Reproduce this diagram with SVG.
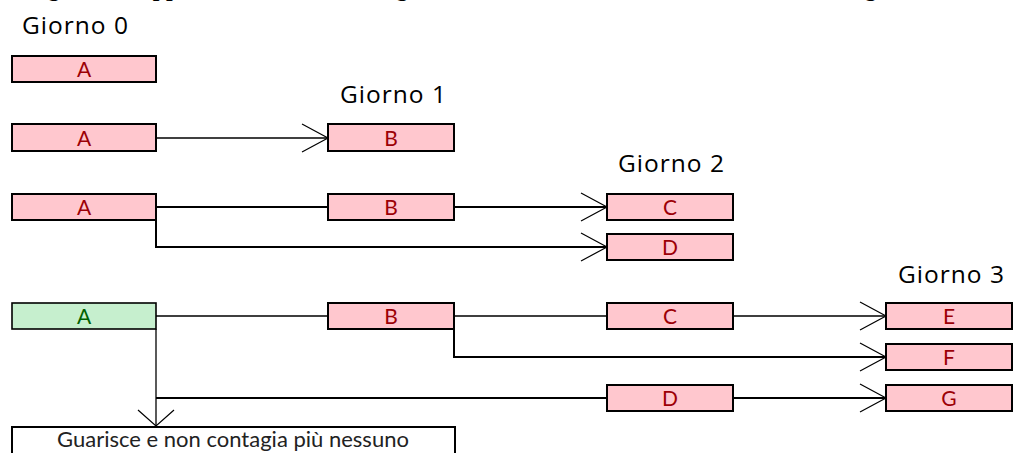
<svg xmlns="http://www.w3.org/2000/svg" width="1015" height="453" viewBox="0 0 1015 453">
  <style>
    .title { font-family: "Liberation Serif", serif; font-weight: bold; font-size: 24px; fill: #000; }
    .day { font-family: "Open Sans", "Noto Sans", sans-serif; font-size: 24.5px; letter-spacing: 1px; fill: #000; }
    .sick rect { fill: #FFC7CE; stroke: #000; stroke-width: 2; }
    .sick text { fill: #9C0006; }
    .healed rect { fill: #C6EFCE; stroke: #000; stroke-width: 1.6; }
    .healed text { fill: #006100; }
    .lbl { font-family: "Lato", "Open Sans", sans-serif; font-size: 21px; text-anchor: middle; }
    .note rect { fill: #fff; stroke: #000; stroke-width: 2; }
    .note text { fill: #222; font-size: 22px; }
    .wire { fill: none; stroke: #000; stroke-width: 2; }
    .thin { stroke-width: 1.3; }
    .head { fill: none; stroke: #000; stroke-width: 1.2; }
  </style>

  <!-- heading, cut off at the top edge -->
  <text class="title" x="12" y="-4">Diagramma approssimativo del contagio, nel caso in cui ciascun ammalato ne contagia due</text>

  <!-- day labels -->
  <text class="day" x="22" y="34">Giorno 0</text>
  <text class="day" x="340" y="103">Giorno 1</text>
  <text class="day" x="618" y="172">Giorno 2</text>
  <text class="day" x="898" y="283">Giorno 3</text>

  <!-- connectors -->
  <g id="connectors">
    <!-- day 1 -->
    <path class="wire thin" d="M156 138 H328"/>
    <path class="head" d="M302 124 L328 138 L302 152"/>
    <!-- day 2 -->
    <path class="wire" d="M156 207 H328 M454 207 H607"/>
    <path class="head" d="M581 193 L607 207 L581 221"/>
    <path class="wire" d="M156 220 V247 H607"/>
    <path class="head" d="M581 233 L607 247 L581 261"/>
    <!-- day 3 -->
    <path class="wire thin" d="M156 316 H328 M454 316 H607 M733 316 H886"/>
    <path class="head" d="M860 302 L886 316 L860 330"/>
    <path class="wire" d="M454 329 V357 H886"/>
    <path class="head" d="M860 343 L886 357 L860 371"/>
    <path class="wire" d="M156 398 H607 M733 398 H886"/>
    <path class="head" d="M860 384 L886 398 L860 412"/>
    <path class="wire thin" d="M156 329 V426"/>
    <path class="head" d="M138 410 L156 426 L174 410"/>
  </g>

  <!-- day 0 -->
  <g id="d0-a" class="sick"><rect x="12" y="56" width="144" height="26"/><text class="lbl" x="84" y="77">A</text></g>

  <!-- day 1 -->
  <g id="d1-a" class="sick"><rect x="12" y="124" width="144" height="27"/><text class="lbl" x="84" y="146">A</text></g>
  <g id="d1-b" class="sick"><rect x="328" y="124" width="126" height="27"/><text class="lbl" x="391" y="146">B</text></g>

  <!-- day 2 -->
  <g id="d2-a" class="sick"><rect x="12" y="194" width="144" height="26"/><text class="lbl" x="84" y="215">A</text></g>
  <g id="d2-b" class="sick"><rect x="328" y="194" width="126" height="26"/><text class="lbl" x="391" y="215">B</text></g>
  <g id="d2-c" class="sick"><rect x="607" y="194" width="126" height="26"/><text class="lbl" x="670" y="215">C</text></g>
  <g id="d2-d" class="sick"><rect x="607" y="234" width="126" height="26"/><text class="lbl" x="670" y="255">D</text></g>

  <!-- day 3 -->
  <g id="d3-a" class="healed"><rect x="12" y="303" width="144" height="26"/><text class="lbl" x="84" y="324">A</text></g>
  <g id="d3-b" class="sick"><rect x="328" y="303" width="126" height="26"/><text class="lbl" x="391" y="324">B</text></g>
  <g id="d3-c" class="sick"><rect x="607" y="303" width="126" height="26"/><text class="lbl" x="670" y="324">C</text></g>
  <g id="d3-d" class="sick"><rect x="607" y="385" width="126" height="26"/><text class="lbl" x="670" y="406">D</text></g>
  <g id="d3-e" class="sick"><rect x="886" y="303" width="126" height="26"/><text class="lbl" x="949" y="324">E</text></g>
  <g id="d3-f" class="sick"><rect x="886" y="344" width="126" height="26"/><text class="lbl" x="949" y="365">F</text></g>
  <g id="d3-g" class="sick"><rect x="886" y="385" width="126" height="26"/><text class="lbl" x="949" y="406">G</text></g>

  <!-- outcome for A -->
  <g id="recovered" class="note"><rect x="12" y="427" width="443" height="40"/><text class="lbl" x="233" y="447">Guarisce e non contagia più nessuno</text></g>
</svg>
